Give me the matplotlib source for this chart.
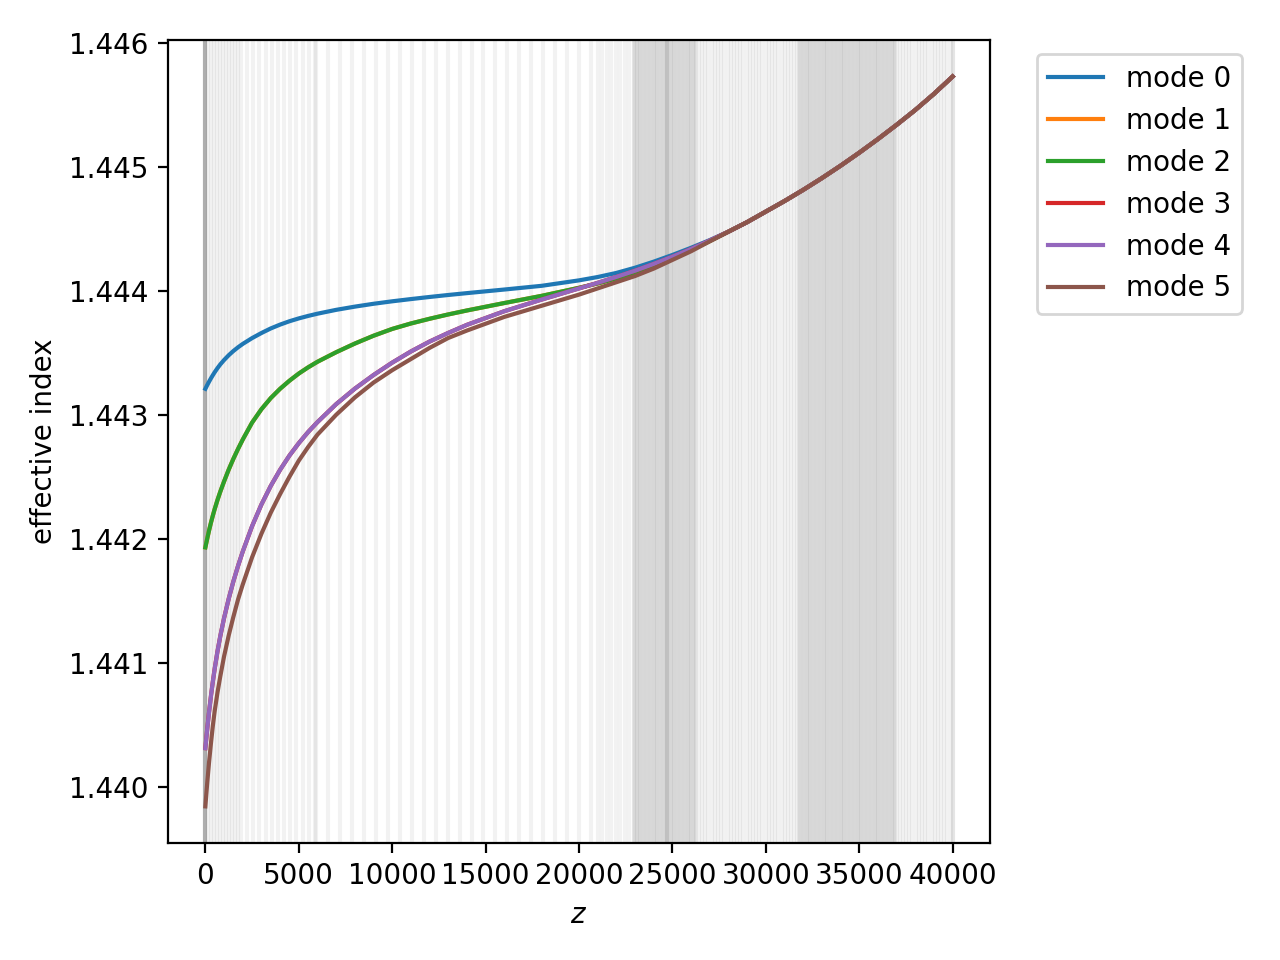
import numpy as np
import matplotlib
matplotlib.use('Agg')
import matplotlib.pyplot as plt

## effective index of the six modes along the taper
z = [0, 100, 200, 300, 400, 500, 650, 800, 1000, 1250,
     1500, 1750, 2000, 2500, 3000, 3500, 4000, 4500, 5000, 5500,
     6000, 7000, 8000, 9000, 10000, 11000, 12000, 13000, 14000, 16000,
     18000, 20000, 21000, 22000, 23000, 24000, 25000, 26000, 27000, 28000,
     29000, 30000, 31000, 32000, 33000, 34000, 35000, 36000, 37000, 38000,
     39000, 40000]

n_mode0 = [1.443210, 1.443240, 1.443268, 1.443295, 1.443320, 1.443344, 1.443377, 1.443407, 1.443442, 1.443481,
           1.443515, 1.443545, 1.443572, 1.443619, 1.443660, 1.443697, 1.443728, 1.443755, 1.443778, 1.443798,
           1.443816, 1.443847, 1.443873, 1.443896, 1.443916, 1.443934, 1.443951, 1.443967, 1.443982, 1.444011,
           1.444041, 1.444085, 1.444112, 1.444145, 1.444187, 1.444236, 1.444290, 1.444348, 1.444410, 1.444478,
           1.444555, 1.444640, 1.444725, 1.444815, 1.444910, 1.445010, 1.445115, 1.445225, 1.445340, 1.445460,
           1.445590, 1.445730]

n_mode2 = [1.441930, 1.442001, 1.442068, 1.442130, 1.442187, 1.442240, 1.442313, 1.442380, 1.442462, 1.442558,
           1.442645, 1.442725, 1.442800, 1.442937, 1.443045, 1.443135, 1.443210, 1.443275, 1.443333, 1.443383,
           1.443428, 1.443505, 1.443575, 1.443638, 1.443693, 1.443737, 1.443775, 1.443810, 1.443842, 1.443902,
           1.443960, 1.444025, 1.444060, 1.444100, 1.444145, 1.444197, 1.444258, 1.444330, 1.444402, 1.444478,
           1.444555, 1.444640, 1.444725, 1.444815, 1.444910, 1.445010, 1.445115, 1.445225, 1.445340, 1.445460,
           1.445590, 1.445730]

n_mode4 = [1.440310, 1.440465, 1.440605, 1.440732, 1.440847, 1.440952, 1.441092, 1.441215, 1.441359, 1.441516,
           1.441656, 1.441781, 1.441896, 1.442101, 1.442276, 1.442426, 1.442556, 1.442671, 1.442771, 1.442861,
           1.442941, 1.443086, 1.443211, 1.443321, 1.443421, 1.443511, 1.443591, 1.443661, 1.443726, 1.443836,
           1.443930, 1.444020, 1.444065, 1.444113, 1.444163, 1.444218, 1.444276, 1.444338, 1.444406, 1.444478,
           1.444555, 1.444640, 1.444725, 1.444815, 1.444910, 1.445010, 1.445115, 1.445225, 1.445340, 1.445460,
           1.445590, 1.445730]

n_mode5 = [1.43984, 1.44003, 1.44020, 1.44035, 1.44049, 1.44061, 1.44076, 1.44089, 1.44105, 1.44122,
           1.44137, 1.44151, 1.44163, 1.44185, 1.44204, 1.44221, 1.44236, 1.44250, 1.44263, 1.44274,
           1.44284, 1.44300, 1.44314, 1.44326, 1.44336, 1.44345, 1.44354, 1.44362, 1.44368, 1.44379,
           1.44388, 1.44397, 1.44402, 1.44407, 1.44412, 1.44418, 1.44425, 1.44432, 1.44440, 1.444478,
           1.444555, 1.444640, 1.444725, 1.444815, 1.444910, 1.445010, 1.445115, 1.445225, 1.445340, 1.445460,
           1.445590, 1.445730]

# modes 1 and 3 are degenerate with 2 and 4 (hidden underneath)
n_mode1 = list(n_mode2)
n_mode3 = list(n_mode4)

modes = [n_mode0, n_mode1, n_mode2, n_mode3, n_mode4, n_mode5]

## z positions of the computed slices: (start, stop, spacing) per region
slice_regions = [(0, 1900, 160),
                 (1900, 5900, 330),
                 (5900, 21000, 642),
                 (21000, 22940, 240),
                 (22940, 26250, 70),
                 (26250, 31760, 170),
                 (31760, 37000, 70),
                 (37000, 40000, 170)]
repeated_slices = [0] * 6 + [24700, 24700, 40000, 40000]

z_slices = list(repeated_slices)
for a, b, step in slice_regions:
    z_slices += list(np.arange(a, b, step))


fig = plt.figure(figsize=(6.4, 4.8), dpi=200)
ax = fig.add_axes([0.13125, 0.122, 0.64219, 0.8363])

for zs in z_slices:
    ax.axvline(zs, color='k', alpha=0.05)

for m in range(len(modes)):
    ax.plot(z, modes[m], label='mode %d' % m)

ax.set_xlabel('$z$')
ax.set_ylabel('effective index')
ax.legend(bbox_to_anchor=(1.04, 1), loc='upper left')

fig.savefig('out.png')
